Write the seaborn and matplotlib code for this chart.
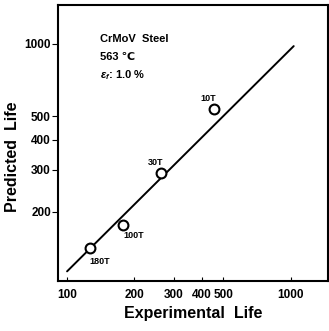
import pandas as pd
import matplotlib
matplotlib.use("Agg")
import matplotlib.pyplot as plt
import seaborn as sns

# data
labels = ["10T", "30T", "100T", "180T"]
exp_life = [452, 262, 177, 127]
pred_life = [536, 290, 176, 141]

# fitted line ends
line_x = [100, 1030]
line_y = [113, 980]

x_ticks = [100, 200, 300, 400, 500, 1000]
y_ticks = [200, 300, 400, 500, 1000]

# label offsets (pixels) relative to each point
offsets = [(-5, 11), (-5, 11), (11, -10), (9, -13)]

df = pd.DataFrame({"exp": exp_life, "pred": pred_life, "label": labels})
line_df = pd.DataFrame({"x": line_x, "y": line_y})

sns.set_style("ticks")
plt.rcParams["font.family"] = ["Liberation Sans", "DejaVu Sans"]
plt.rcParams["font.weight"] = "bold"
plt.rcParams["mathtext.fontset"] = "custom"
plt.rcParams["mathtext.it"] = "Liberation Sans:italic:bold"
plt.rcParams["mathtext.rm"] = "Liberation Sans:bold"
for k in ["text.color", "axes.labelcolor", "xtick.color", "ytick.color", "axes.edgecolor"]:
    plt.rcParams[k] = "black"

fig = plt.figure(figsize=(3.29, 3.31), dpi=100)
ax = fig.add_axes([0.176, 0.151, 0.821, 0.834])

sns.lineplot(data=line_df, x="x", y="y", ax=ax, color="black", linewidth=1.4)
sns.scatterplot(data=df, x="exp", y="pred", ax=ax, s=50, facecolor="white",
                edgecolor="black", linewidth=1.5, zorder=3)

for (lab, xv, yv), (dx, dy) in zip(zip(labels, exp_life, pred_life), offsets):
    ax.annotate(lab, (xv, yv), xytext=(dx, dy), textcoords="offset pixels",
                ha="center", va="center", fontsize=6.5, fontweight="bold")

ax.set_xscale("log")
ax.set_yscale("log")
ax.set_xlim(91, 1466)
ax.set_ylim(103, 1454)

ax.set_xticks(x_ticks)
ax.set_xticklabels([str(t) for t in x_ticks])
ax.set_yticks(y_ticks)
ax.set_yticklabels([str(t) for t in y_ticks])
ax.minorticks_off()
ax.tick_params(axis="x", direction="in", length=3, labelsize=8.5, pad=6)
ax.tick_params(axis="y", direction="out", length=4, labelsize=8.5, pad=1)
for t in ax.get_xticklabels() + ax.get_yticklabels():
    t.set_fontweight("bold")

for s in ax.spines.values():
    s.set_linewidth(1.5)
    s.set_color("black")

ax.text(0.155, 0.865, "CrMoV  Steel", transform=ax.transAxes, fontsize=8, fontweight="bold")
ax.text(0.155, 0.800, "563 \u2103", transform=ax.transAxes, fontsize=8, fontweight="bold")
ax.text(0.155, 0.735, "$\\epsilon_f$: 1.0 %", transform=ax.transAxes, fontsize=8, fontweight="bold")

ax.set_xlabel("Experimental  Life", fontsize=11.5, fontweight="bold", labelpad=3)
ax.set_ylabel("Predicted  Life", fontsize=11.5, fontweight="bold")
ax.yaxis.set_label_coords(-0.14, 0.45)

fig.savefig("out.png", dpi=100)
